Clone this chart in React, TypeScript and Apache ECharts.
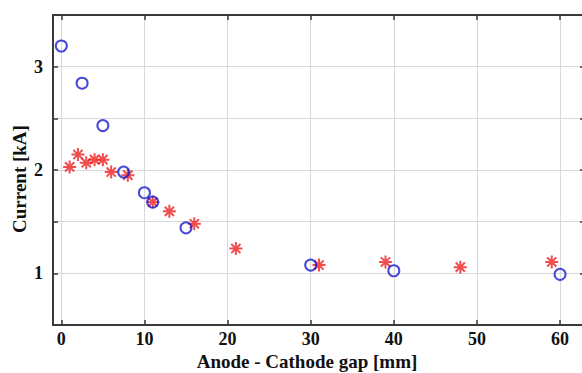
import React, { useEffect, useRef } from "react";
import * as echarts from "echarts";

const circleX = [0, 2.5, 5, 7.5, 10, 11, 15, 30, 40, 60];
const circleY = [3.2, 2.84, 2.43, 1.98, 1.78, 1.69, 1.44, 1.08, 1.025, 0.99];

const starX = [1, 2, 3, 4, 5, 6, 8, 11, 13, 16, 21, 31, 39, 48, 59];
const starY = [2.03, 2.15, 2.07, 2.1, 2.1, 1.98, 1.95, 1.69, 1.6, 1.48, 1.24, 1.08, 1.11, 1.06, 1.11];

const xLabel = "Anode - Cathode gap [mm]";
const yLabel = "Current [kA]";

const FONT = "'Liberation Serif', 'Times New Roman', serif";
const STAR =
  "path://M0,-10L0,10M-10,0L10,0M-7.07,-7.07L7.07,7.07M-7.07,7.07L7.07,-7.07";

export default function App() {
  const ref = useRef<HTMLDivElement>(null);
  useEffect(() => {
    if (!ref.current) return;
    const chart = echarts.init(ref.current, undefined, { renderer: "svg" });
    const axisLine = { show: true, onZero: false, lineStyle: { color: "#3a3a3a", width: 2 } };
    const gridLine = { show: true, lineStyle: { color: "#d8d8d8", width: 1 } };
    const tick = { show: true, inside: true, length: 5, lineStyle: { color: "#3a3a3a", width: 1.5 } };
    const xCommon = {
      type: "value" as const,
      min: -1,
      max: 63,
      minInterval: 10,
      maxInterval: 10,
    };
    const yCommon = {
      type: "value" as const,
      min: 0.5,
      max: 3.5,
      interval: 0.5,
    };
    chart.setOption({
      animation: false,
      backgroundColor: "#ffffff",
      grid: { left: 53, right: 15, top: 15, bottom: 48, containLabel: false },
      xAxis: [
        {
          ...xCommon,
          position: "bottom",
          axisLine,
          axisTick: tick,
          splitLine: gridLine,
          axisLabel: {
            showMinLabel: false,
            showMaxLabel: false,
            color: "#111",
            fontFamily: FONT,
            fontWeight: "bold",
            fontSize: 18,
            margin: 5,
          },
        },
        {
          ...xCommon,
          position: "top",
          axisLine,
          axisTick: tick,
          splitLine: { show: false },
          axisLabel: { show: false },
        },
      ],
      yAxis: [
        {
          ...yCommon,
          position: "left",
          axisLine,
          axisTick: tick,
          splitLine: gridLine,
          axisLabel: {
            color: "#111",
            fontFamily: FONT,
            fontWeight: "bold",
            fontSize: 18,
            margin: 10,
            formatter: (v: number) => (Math.abs(v - Math.round(v)) < 1e-9 ? String(Math.round(v)) : ""),
          },
        },
        {
          ...yCommon,
          position: "right",
          axisLine,
          axisTick: tick,
          splitLine: { show: false },
          axisLabel: { show: false },
        },
      ],
      graphic: [
        {
          type: "text",
          x: 307,
          y: 361,
          style: {
            text: xLabel,
            fill: "#111",
            font: `bold 19px ${FONT}`,
            align: "center",
            verticalAlign: "middle",
          },
        },
        {
          type: "text",
          x: 19,
          y: 179,
          rotation: Math.PI / 2,
          style: {
            text: yLabel,
            fill: "#111",
            font: `bold 19px ${FONT}`,
            align: "center",
            verticalAlign: "middle",
          },
        },
      ],
      series: [
        {
          type: "scatter",
          xAxisIndex: 0,
          yAxisIndex: 0,
          data: starX.map((x, i) => [x, starY[i]]),
          symbol: STAR,
          symbolSize: 13,
          itemStyle: { color: "#ee2020", borderColor: "#ee2020", borderWidth: 2 },
        },
        {
          type: "scatter",
          xAxisIndex: 0,
          yAxisIndex: 0,
          data: circleX.map((x, i) => [x, circleY[i]]),
          symbol: "circle",
          symbolSize: 11,
          itemStyle: { color: "rgba(0,0,0,0)", borderColor: "#1a1ad0", borderWidth: 2 },
        },
      ],
    });
    return () => chart.dispose();
  }, []);
  return (
    <div
      style={{
        position: "absolute",
        left: 0,
        top: 0,
        width: 582,
        height: 373,
        overflow: "hidden",
      }}
    >
      <div ref={ref} style={{ width: 600, height: 373 }} />
    </div>
  );
}
